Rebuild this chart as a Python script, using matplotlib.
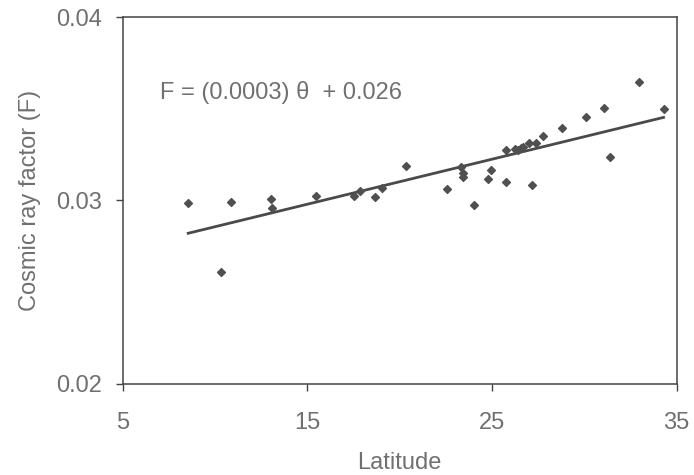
import matplotlib
matplotlib.use("Agg")
import matplotlib.pyplot as plt

# latitude (deg) vs cosmic ray factor
latitude = [8.54, 10.31, 10.85, 13.05, 13.08, 15.49, 17.53, 17.83, 18.64, 19.06,
            20.36, 22.58, 23.3, 23.4, 23.45, 24.02, 24.78, 24.96, 25.74, 25.77,
            26.22, 26.4, 26.59, 26.67, 26.98, 27.18, 27.4, 27.76, 28.79, 30.1,
            31.06, 31.37, 32.95, 34.29]
cosmic_factor = [0.02988, 0.02612, 0.02994, 0.0301, 0.02957, 0.03026, 0.03024, 0.03053, 0.0302, 0.0307,
                 0.03188, 0.03061, 0.03184, 0.03148, 0.0313, 0.02975, 0.03117, 0.03166, 0.03103, 0.03275,
                 0.03281, 0.03275, 0.03284, 0.03293, 0.03315, 0.03085, 0.03312, 0.03351, 0.03393, 0.03457,
                 0.03506, 0.03235, 0.03647, 0.03497]

# regression line end points
fit_x = [8.54, 34.29]
fit_y = [0.02821, 0.03453]

x_ticks = [5, 15, 25, 35]
y_ticks = [0.02, 0.03, 0.04]
y_tick_labels = ["0.02", "0.03", "0.04"]

plt.rcParams['font.family'] = ['Liberation Sans', 'DejaVu Sans']

fig = plt.figure(figsize=(6.94, 4.75), dpi=100)
ax = fig.add_axes([0.177, 0.192, 0.798, 0.772])

ax.plot(fit_x, fit_y, color='#4a4a4a', linewidth=2.0)
ax.scatter(latitude, cosmic_factor, marker='D', s=16, color='#505050', zorder=3)

ax.set_xlim(5, 35)
ax.set_ylim(0.02, 0.04)
ax.set_xticks(x_ticks)
ax.set_yticks(y_ticks)
ax.set_yticklabels(y_tick_labels)

text_color = '#707070'
ax.tick_params(axis='both', direction='out', length=5, width=1, color='#444444',
               labelsize=17, labelcolor=text_color)
ax.tick_params(axis='x', pad=15)
ax.tick_params(axis='y', pad=10)
for side in ax.spines.values():
    side.set_color('#444444')
    side.set_linewidth(1.1)

ax.set_xlabel('Latitude', fontsize=17, color=text_color, labelpad=13)
ax.set_ylabel('Cosmic ray factor (F)', fontsize=17, color=text_color, labelpad=11)

ax.text(7.0, 0.0359, 'F = (0.0003) θ  + 0.026', fontsize=17, color=text_color,
        va='center', ha='left')

fig.savefig('out.png', dpi=100)
